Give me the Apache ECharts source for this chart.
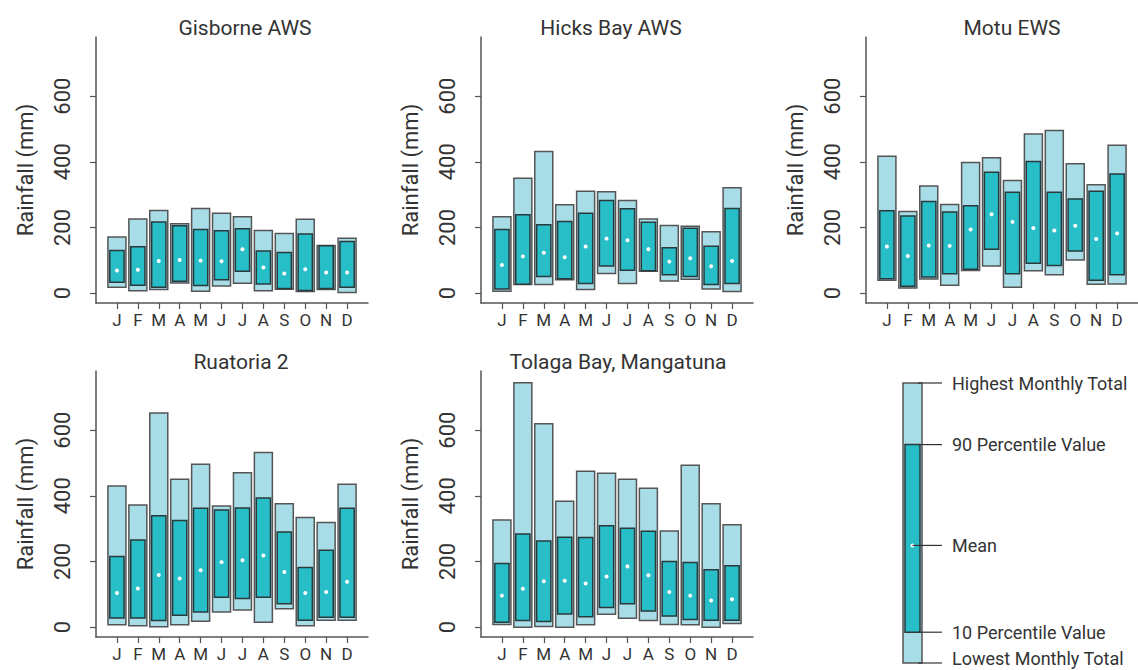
<!DOCTYPE html>
<html>
<head>
<meta charset="utf-8">
<script src="https://cdn.jsdelivr.net/npm/echarts@6/dist/echarts.min.js"></script>
<style>
  html, body { margin: 0; padding: 0; background: #fff; }
  #chart { width: 1138px; height: 670px; }
</style>
</head>
<body>
<div id="chart"></div>
<script>
const months = ['J', 'F', 'M', 'A', 'M', 'J', 'J', 'A', 'S', 'O', 'N', 'D']
const yTicks = [0, 200, 400, 600]

// Gisborne AWS
const gisborneMax = [171, 226, 252, 211, 258, 243, 233, 191, 182, 225, 145, 167]
const gisborneP90 = [130, 141, 217, 205, 194, 190, 196, 128, 124, 180, 144, 157]
const gisborneMean = [69, 71, 98, 101, 99, 97, 134, 78, 60, 73, 63, 63]
const gisborneP10 = [33, 24, 18, 36, 23, 41, 67, 28, 14, 8, 14, 18]
const gisborneMin = [18, 7, 11, 31, 6, 22, 30, 7, 12, 5, 11, 2]

// Hicks Bay AWS
const hicksMax = [233, 350, 431, 269, 310, 309, 282, 226, 206, 204, 187, 321]
const hicksP90 = [194, 239, 208, 218, 243, 282, 257, 216, 138, 198, 143, 258]
const hicksMean = [86, 112, 123, 109, 142, 166, 161, 134, 96, 106, 82, 98]
const hicksP10 = [13, 27, 51, 44, 29, 83, 70, 68, 56, 51, 26, 29]
const hicksMin = [6, 26, 26, 41, 11, 60, 29, 67, 37, 42, 13, 5]

// Motu EWS
const motuMax = [417, 249, 326, 270, 398, 412, 343, 485, 495, 394, 330, 450]
const motuP90 = [251, 235, 279, 247, 266, 368, 307, 401, 307, 287, 310, 363]
const motuMean = [142, 113, 145, 144, 194, 240, 217, 198, 191, 205, 165, 182]
const motuP10 = [44, 21, 49, 59, 73, 134, 59, 91, 84, 128, 39, 56]
const motuMin = [39, 16, 43, 24, 69, 83, 18, 68, 56, 101, 27, 28]

// Ruatoria 2
const ruatoriaMax = [430, 372, 652, 450, 496, 369, 470, 532, 376, 334, 319, 435]
const ruatoriaP90 = [215, 265, 339, 325, 362, 357, 363, 393, 290, 182, 234, 362]
const ruatoriaMean = [104, 118, 159, 148, 173, 198, 204, 218, 168, 104, 107, 138]
const ruatoriaP10 = [28, 28, 20, 36, 46, 91, 87, 91, 71, 21, 30, 30]
const ruatoriaMin = [7, 4, 1, 7, 18, 46, 52, 15, 56, 4, 21, 21]

// Tolaga Bay, Mangatuna
const tolagaMax = [326, 744, 619, 383, 475, 469, 450, 423, 293, 493, 376, 312]
const tolagaP90 = [194, 284, 262, 274, 273, 309, 301, 292, 200, 197, 175, 187]
const tolagaMean = [96, 117, 140, 141, 133, 154, 185, 158, 107, 96, 81, 85]
const tolagaP10 = [15, 20, 17, 40, 32, 60, 71, 49, 34, 23, 21, 21]
const tolagaMin = [8, 0, 2, 0, 7, 39, 27, 20, 8, 7, 0, 11]

// key panel: one example bar on its own 0-100 scale
const keyLabels = ['Lowest Monthly Total', '10 Percentile Value', 'Mean', '90 Percentile Value', 'Highest Monthly Total']
const keyValues = [0, 11, 42, 78, 100]

const LIGHT = '#a8dde8'
const TEAL = '#27bec7'
const TEXT = '#333'
const FONT = 'Roboto'

const stations = [
    { name: 'Gisborne AWS', max: gisborneMax, p90: gisborneP90, mean: gisborneMean, p10: gisborneP10, min: gisborneMin },
    { name: 'Hicks Bay AWS', max: hicksMax, p90: hicksP90, mean: hicksMean, p10: hicksP10, min: hicksMin },
    { name: 'Motu EWS', max: motuMax, p90: motuP90, mean: motuMean, p10: motuP10, min: motuMin },
    { name: 'Ruatoria 2', max: ruatoriaMax, p90: ruatoriaP90, mean: ruatoriaMean, p10: ruatoriaP10, min: ruatoriaMin },
    { name: 'Tolaga Bay, Mangatuna', max: tolagaMax, p90: tolagaP90, mean: tolagaMean, p10: tolagaP10, min: tolagaMin }
]

// panel layout
const panels = [
    { left: 96, top: 37, titleX: 245 },
    { left: 481, top: 37, titleX: 611 },
    { left: 866, top: 37, titleX: 1012 },
    { left: 96, top: 371, titleX: 241 },
    { left: 481, top: 371, titleX: 618 }
]
const PW = 272
const PH = 266

function renderBox(params, api) {
    const x = api.value(0)
    const lo = api.coord([x, api.value(1)])
    const p10 = api.coord([x, api.value(2)])
    const mean = api.coord([x, api.value(3)])
    const p90 = api.coord([x, api.value(4)])
    const hi = api.coord([x, api.value(5)])
    const wOut = api.size([0.86, 0])[0]
    const wIn = api.size([0.68, 0])[0]
    return {
        type: 'group',
        children: [
            {
                type: 'rect',
                shape: { x: lo[0] - wOut / 2, y: hi[1], width: wOut, height: lo[1] - hi[1] },
                style: { fill: LIGHT, stroke: '#555', lineWidth: 1.5 }
            },
            {
                type: 'rect',
                shape: { x: lo[0] - wIn / 2, y: p90[1], width: wIn, height: p10[1] - p90[1] },
                style: { fill: TEAL, stroke: '#2a3a3c', lineWidth: 1.5 }
            },
            {
                type: 'circle',
                shape: { cx: mean[0], cy: mean[1], r: 2 },
                style: { fill: '#fff' }
            }
        ]
    }
}

function renderKey(params, api) {
    const x = api.value(0)
    const lo = api.coord([x, api.value(1)])
    const p10 = api.coord([x, api.value(2)])
    const mean = api.coord([x, api.value(3)])
    const p90 = api.coord([x, api.value(4)])
    const hi = api.coord([x, api.value(5)])
    const wOut = 19
    const wIn = 15
    const right = lo[0] + wOut / 2
    const children = [
        {
            type: 'rect',
            shape: { x: lo[0] - wOut / 2, y: hi[1], width: wOut, height: lo[1] - hi[1] },
            style: { fill: LIGHT, stroke: '#555', lineWidth: 1.5 }
        },
        {
            type: 'rect',
            shape: { x: lo[0] - wIn / 2, y: p90[1], width: wIn, height: p10[1] - p90[1] },
            style: { fill: TEAL, stroke: '#2a3a3c', lineWidth: 1.5 }
        },
        {
            type: 'circle',
            shape: { cx: mean[0], cy: mean[1], r: 2 },
            style: { fill: '#fff' }
        }
    ]
    const ys = [lo[1], p10[1], mean[1], p90[1], hi[1]]
    ys.forEach((y, i) => {
        children.push({
            type: 'line',
            shape: { x1: i === 2 ? mean[0] : right - 4, y1: y, x2: right + 20, y2: y },
            style: { stroke: '#333', lineWidth: 1.2 }
        })
        // bottom label sits at the page edge, nudge it up so it stays whole
        children.push({
            type: 'text',
            style: {
                x: right + 30, y: Math.min(y, 658), text: keyLabels[i],
                fill: TEXT, font: '18px ' + FONT,
                textAlign: 'left', textVerticalAlign: 'middle'
            }
        })
    })
    return { type: 'group', children }
}

const grid = []
const xAxis = []
const yAxis = []
const series = []
const title = []

stations.forEach((st, i) => {
    const p = panels[i]
    grid.push({ left: p.left, top: p.top, width: PW, height: PH, outerBoundsMode: 'none' })
    title.push({
        text: st.name,
        left: p.titleX,
        top: p.top - 20,
        textAlign: 'center',
        padding: 0,
        textStyle: { fontFamily: FONT, fontSize: 21, fontWeight: 'normal', color: TEXT }
    })
    xAxis.push({
        gridIndex: i,
        type: 'value',
        min: 0,
        max: 13,
        splitLine: { show: false },
        axisLine: { onZero: false, lineStyle: { color: '#555', width: 1.5 } },
        axisTick: { customValues: months.map((m, k) => k + 1), length: 6, lineStyle: { color: '#555', width: 1.2 } },
        axisLabel: {
            customValues: months.map((m, k) => k + 1),
            formatter: v => months[v - 1] || '',
            margin: 8,
            fontFamily: FONT, fontSize: 17, color: TEXT
        }
    })
    // axis line + ticks
    yAxis.push({
        gridIndex: i,
        type: 'value',
        position: 'left',
        min: -30,
        max: 780,
        splitLine: { show: false },
        axisLine: { show: true, lineStyle: { color: '#555', width: 1.5 } },
        axisTick: { show: true, customValues: yTicks, length: 6, lineStyle: { color: '#555', width: 1.2 } },
        axisLabel: { show: false }
    })
    // tick labels + name, set a little further out
    yAxis.push({
        gridIndex: i,
        type: 'value',
        position: 'left',
        offset: 15,
        min: -30,
        max: 780,
        name: 'Rainfall (mm)',
        nameLocation: 'middle',
        nameRotate: 90,
        nameGap: 45,
        nameTextStyle: { fontFamily: FONT, fontSize: 22, color: TEXT },
        splitLine: { show: false },
        axisLine: { show: false },
        axisTick: { show: false },
        axisLabel: {
            customValues: yTicks,
            rotate: 90,
            fontFamily: FONT, fontSize: 22, color: TEXT
        }
    })
    series.push({
        type: 'custom',
        xAxisIndex: i,
        yAxisIndex: 2 * i,
        renderItem: renderBox,
        encode: { x: 0, y: [1, 2, 3, 4, 5] },
        data: months.map((m, k) => [k + 1, st.min[k], st.p10[k], st.mean[k], st.p90[k], st.max[k]]),
        silent: true
    })
})

// key panel
grid.push({ left: 903, top: 383, width: 19, height: 280, outerBoundsMode: 'none' })
xAxis.push({ gridIndex: 5, type: 'value', min: 0, max: 1, show: false })
yAxis.push({ gridIndex: 5, type: 'value', min: 0, max: 100, show: false })
series.push({
    type: 'custom',
    xAxisIndex: 5,
    yAxisIndex: yAxis.length - 1,
    renderItem: renderKey,
    encode: { x: 0, y: [1, 2, 3, 4, 5] },
    data: [[0.5].concat(keyValues)],
    silent: true
})

const chart = echarts.init(document.getElementById('chart'), null, { renderer: 'svg' })
chart.setOption({
    animation: false,
    title,
    grid,
    xAxis,
    yAxis,
    series
})
</script>
</body>
</html>
